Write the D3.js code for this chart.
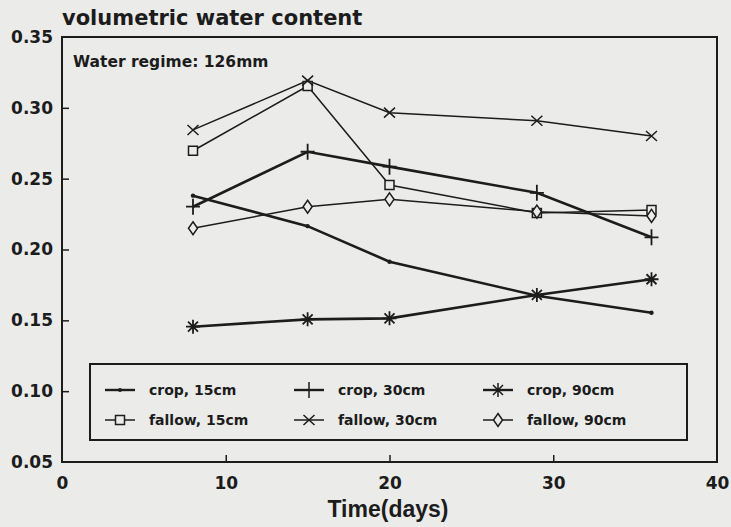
<!DOCTYPE html>
<html lang="en">
<head>
    <meta charset="UTF-8">
    <title>Volumetric water content</title>
    <script src="https://d3js.org/d3.v7.min.js"></script>
    <style>
        body {
            margin: 0;
            background-color: #ebebea;
            font-family: "DejaVu Sans", sans-serif;
        }
        .tick-label { font-family: "DejaVu Sans", sans-serif; font-size: 17px; font-weight: bold; }
        .legend-label { font-size: 14px; font-weight: bold; }
    </style>
</head>
<body>
    <div id="chart"></div>
    <script>
        // Data
        const days = [8, 15, 20, 29, 36];
        const crop15 = [0.238, 0.2165, 0.1914, 0.1674, 0.1554];
        const crop30 = [0.2302, 0.269, 0.2585, 0.240, 0.2086];
        const crop90 = [0.1455, 0.1507, 0.1514, 0.1679, 0.179];
        const fallow15 = [0.2697, 0.3154, 0.2455, 0.2258, 0.2279];
        const fallow30 = [0.2844, 0.3192, 0.2966, 0.2909, 0.2801];
        const fallow90 = [0.215, 0.2302, 0.2354, 0.2267, 0.2237];

        const xTicks = [0, 10, 20, 30, 40];
        const yTicks = [0.05, 0.10, 0.15, 0.20, 0.25, 0.30, 0.35];

        const seriesNames = ["crop, 15cm", "crop, 30cm", "crop, 90cm",
                             "fallow, 15cm", "fallow, 30cm", "fallow, 90cm"];
        const seriesValues = [crop15, crop30, crop90, fallow15, fallow30, fallow90];
        const seriesMarkers = ["dot", "plus", "star", "square", "cross", "diamond"];

        const W = 731, H = 527;
        const margin = { top: 37, right: 14, bottom: 65, left: 62 };
        const width = W - margin.left - margin.right;
        const height = H - margin.top - margin.bottom;
        const ink = "#1c1c1c";
        const paper = "#ebebea";

        const svg = d3.select("#chart").append("svg")
            .attr("width", W)
            .attr("height", H);

        const g = svg.append("g")
            .attr("transform", `translate(${margin.left},${margin.top})`);

        const x = d3.scaleLinear().domain([0, 40]).range([0, width]);
        const y = d3.scaleLinear().domain([0.05, 0.35]).range([height, 0]);

        // marker paths, centred on 0,0
        function markerPath(type) {
            switch (type) {
                case "plus": return "M-7,0H7M0,-8V8";
                case "star": return "M-7,0H7M0,-7V7M-5,-5L5,5M-5,5L5,-5";
                case "square": return "M-4.5,-4.5H4.5V4.5H-4.5Z";
                case "cross": return "M-5.5,-5L5.5,5M-5.5,5L5.5,-5";
                case "diamond": return "M0,-6.5L4.5,0L0,6.5L-4.5,0Z";
            }
            return null;
        }

        // frame
        g.append("rect")
            .attr("width", width)
            .attr("height", height)
            .attr("fill", "none")
            .attr("stroke", ink)
            .attr("stroke-width", 2);

        // axes: ticks point inward
        const xAxis = g.append("g")
            .attr("transform", `translate(0,${height})`)
            .call(d3.axisBottom(x).tickValues(xTicks).tickSizeInner(-7).tickSizeOuter(0).tickPadding(15).tickFormat(d3.format("d")));
        const yAxis = g.append("g")
            .call(d3.axisLeft(y).tickValues(yTicks).tickSizeInner(-7).tickSizeOuter(0).tickPadding(9).tickFormat(d3.format(".2f")));

        [xAxis, yAxis].forEach(a => {
            a.attr("font-family", null).attr("font-size", null);
            a.select(".domain").remove();
            a.selectAll("line").attr("stroke", ink).attr("stroke-width", 1.5);
            a.selectAll("text").attr("class", "tick-label").attr("fill", ink);
        });
        // no tick marks at the frame corners
        xAxis.selectAll(".tick").filter(d => d === 0 || d === 40).select("line").remove();
        yAxis.selectAll(".tick").filter(d => d === 0.05 || d === 0.35).select("line").remove();

        // lines
        const line = d3.line()
            .x((d, i) => x(days[i]))
            .y(d => y(d));

        seriesValues.forEach((vals, s) => {
            g.append("path")
                .datum(vals)
                .attr("fill", "none")
                .attr("stroke", ink)
                .attr("stroke-width", s < 3 ? 2.6 : 1.5)
                .attr("d", line);
        });

        // markers
        seriesValues.forEach((vals, s) => {
            const type = seriesMarkers[s];
            const pts = g.append("g").selectAll("path")
                .data(vals)
                .join(type === "dot" ? "circle" : "path")
                .attr("transform", (d, i) => `translate(${x(days[i])},${y(d)})`);
            if (type === "dot") {
                pts.attr("r", 2.2).attr("fill", ink);
            } else {
                pts.attr("d", markerPath(type))
                    .attr("fill", (type === "square" || type === "diamond") ? paper : "none")
                    .attr("stroke", ink)
                    .attr("stroke-width", type === "star" || type === "plus" ? 1.8 : 1.5);
            }
        });

        // annotation
        g.append("text")
            .attr("x", 11)
            .attr("y", 30)
            .attr("fill", ink)
            .style("font-size", "15.5px")
            .style("font-weight", "bold")
            .text("Water regime: 126mm");

        // legend
        const legend = g.append("g");
        legend.append("rect")
            .attr("x", 90 - margin.left)
            .attr("y", 364 - margin.top)
            .attr("width", 597)
            .attr("height", 76)
            .attr("fill", "none")
            .attr("stroke", ink)
            .attr("stroke-width", 2);

        const colX = [120, 309, 498];
        const rowY = [390, 420];
        seriesNames.forEach((name, s) => {
            const cx = colX[s % 3] - margin.left;
            const cy = rowY[Math.floor(s / 3)] - margin.top;
            const item = legend.append("g").attr("transform", `translate(${cx},${cy})`);
            item.append("line")
                .attr("x1", -15).attr("x2", 15)
                .attr("stroke", ink)
                .attr("stroke-width", s < 3 ? 2.4 : 1.5);
            const type = seriesMarkers[s];
            if (type === "dot") {
                item.append("circle").attr("r", 2).attr("fill", ink);
            } else {
                item.append("path")
                    .attr("d", markerPath(type))
                    .attr("fill", (type === "square" || type === "diamond") ? paper : "none")
                    .attr("stroke", ink)
                    .attr("stroke-width", 1.5);
            }
            item.append("text")
                .attr("class", "legend-label")
                .attr("x", 29)
                .attr("dy", "0.36em")
                .attr("fill", ink)
                .text(name);
        });

        // titles
        svg.append("text")
            .attr("x", 62)
            .attr("y", 25)
            .attr("fill", ink)
            .style("font-size", "21px")
            .style("font-weight", "bold")
            .text("volumetric water content");

        svg.append("text")
            .attr("x", 388)
            .attr("y", 517)
            .attr("text-anchor", "middle")
            .attr("fill", ink)
            .style("font-family", "'Liberation Sans', Arial, sans-serif")
            .style("font-size", "23px")
            .style("font-weight", "bold")
            .text("Time(days)");
    </script>
</body>
</html>
